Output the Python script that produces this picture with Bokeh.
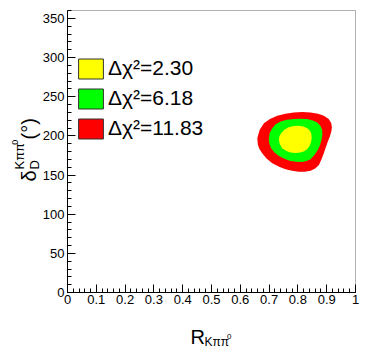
import math
from bokeh.plotting import figure
from bokeh.models import FixedTicker, Label, Legend, LegendItem, Range1d, BoxAnnotation
from bokeh.embed import file_html
from bokeh.resources import INLINE

# ---- data ----
levels = ["Δχ²=2.30", "Δχ²=6.18", "Δχ²=11.83"]
colors = ["#ffff00", "#00ff00", "#ff0000"]

# contour outlines (R, delta in degrees)
red_x = [0.659, 0.667, 0.682, 0.703, 0.728, 0.757, 0.786, 0.815, 0.844, 0.870, 0.890, 0.907, 0.916, 0.918, 0.916, 0.911, 0.904, 0.897, 0.890, 0.882, 0.873, 0.860, 0.844, 0.824, 0.803, 0.780, 0.757, 0.733, 0.711, 0.691, 0.676, 0.666, 0.661]
red_y = [197.0, 207.5, 216.0, 221.5, 225.6, 228.3, 229.9, 230.4, 229.9, 228.3, 225.6, 221.5, 216.0, 210.7, 205.5, 199.2, 192.7, 185.5, 177.8, 170.0, 162.8, 158.3, 155.5, 154.3, 154.2, 155.3, 157.3, 160.8, 165.0, 171.0, 177.8, 183.5, 188.5]

green_x = [0.699, 0.702, 0.711, 0.723, 0.740, 0.762, 0.786, 0.810, 0.832, 0.852, 0.867, 0.878, 0.884, 0.885, 0.882, 0.877, 0.869, 0.858, 0.844, 0.830, 0.815, 0.795, 0.774, 0.753, 0.734, 0.718, 0.707, 0.701]
green_y = [195.7, 203.5, 209.8, 214.8, 218.3, 220.5, 221.4, 221.8, 221.4, 219.7, 217.1, 212.8, 207.7, 201.5, 194.9, 188.4, 182.0, 175.7, 170.1, 167.8, 166.7, 166.8, 168.0, 170.6, 174.4, 179.0, 184.2, 190.0]

yellow_x = [0.734, 0.736, 0.742, 0.753, 0.768, 0.786, 0.803, 0.819, 0.832, 0.841, 0.846, 0.848, 0.846, 0.841, 0.832, 0.822, 0.809, 0.792, 0.774, 0.758, 0.745, 0.737]
yellow_y = [194.9, 199.5, 203.4, 207.8, 211.1, 212.7, 212.8, 211.8, 209.8, 206.8, 203.4, 198.0, 192.7, 187.5, 182.9, 180.2, 178.6, 178.0, 178.6, 181.0, 184.2, 189.5]

x_ticks = [0, 0.1, 0.2, 0.3, 0.4, 0.5, 0.6, 0.7, 0.8, 0.9, 1]
x_tick_labels = ["0", "0.1", "0.2", "0.3", "0.4", "0.5", "0.6", "0.7", "0.8", "0.9", "1"]
y_ticks = [0, 50, 100, 150, 200, 250, 300, 350]
y_tick_labels = ["0", "50", "100", "150", "200", "250", "300", "350"]
x_minor = [i / 50 for i in range(51)]
y_minor = [i * 10 for i in range(37)]
X_MIN, X_MAX = 0, 1
Y_MIN, Y_MAX = 0, 360

FONT = "Liberation Sans"

# whole canvas is the frame; the axes are pinned at x=0 / y=0 so that the
# axis titles (drawn as labels) stay inside the drawable area
W, H = 374, 357
FL, FR, FT, FB = 67, 355, 10, 292          # frame box in pixels
sx = (FR - FL) / (X_MAX - X_MIN)
sy = (FB - FT) / (Y_MAX - Y_MIN)
x_range = Range1d(X_MIN - FL / sx, X_MIN + (W - FL) / sx)
y_range = Range1d(Y_MIN - (H - FB) / sy, Y_MIN + FB / sy)

p = figure(width=W, height=H, x_range=x_range, y_range=y_range,
           output_backend="svg", toolbar_location=None,
           min_border=0, min_border_left=0, min_border_right=0,
           min_border_top=0, min_border_bottom=0)
p.grid.visible = False
p.outline_line_color = None
p.background_fill_color = "white"
p.border_fill_color = "white"

for ax in (p.xaxis[0], p.yaxis[0]):
    ax.fixed_location = 0
    ax.axis_line_color = "black"
    ax.major_tick_in = 8
    ax.major_tick_out = 0
    ax.minor_tick_in = 4
    ax.minor_tick_out = 0
    ax.major_tick_line_color = "black"
    ax.minor_tick_line_color = "black"
    ax.major_label_text_font = FONT
    ax.major_label_text_font_size = "13px"
    ax.major_label_text_color = "black"

p.xaxis.bounds = (X_MIN, X_MAX)
p.yaxis.bounds = (Y_MIN, Y_MAX)
p.xaxis.ticker = FixedTicker(ticks=x_ticks, minor_ticks=x_minor)
p.xaxis.major_label_overrides = dict(zip(x_ticks, x_tick_labels))
p.xaxis.major_label_standoff = 2
p.yaxis.ticker = FixedTicker(ticks=y_ticks, minor_ticks=y_minor)
p.yaxis.major_label_overrides = dict(zip(y_ticks, y_tick_labels))
p.yaxis.major_label_standoff = 3

# frame box
p.add_layout(BoxAnnotation(left=X_MIN, right=X_MAX, bottom=Y_MIN, top=Y_MAX,
                           fill_alpha=0, line_color="black", line_width=1, level="overlay"))

# contours
p.patch(red_x, red_y, fill_color=colors[2], line_color=None)
p.patch(green_x, green_y, fill_color=colors[1], line_color=None)
p.patch(yellow_x, yellow_y, fill_color=colors[0], line_color=None)

# legend proxies (hidden renderers, only used for the legend boxes)
items = []
for lab_text, col, xs, ys in zip(levels, colors, [yellow_x, green_x, red_x], [yellow_y, green_y, red_y]):
    r = p.patch(xs, ys, fill_color=col, line_color="#333333", line_width=1, visible=False)
    items.append(LegendItem(label=lab_text, renderers=[r]))

legend = Legend(items=items, location=(75, 216.5), orientation="vertical",
                glyph_width=31, glyph_height=25, label_height=25, spacing=5,
                padding=0, margin=0, label_standoff=2,
                label_text_font=FONT, label_text_font_size="21px", label_text_color="black",
                border_line_color=None, background_fill_alpha=0, inactive_fill_alpha=0)
p.add_layout(legend)

def lab(x, y, text, size, angle=0.0):
    p.add_layout(Label(x=x, y=y, text=text,
                       angle=angle, text_font=FONT, text_font_size=size,
                       text_baseline="alphabetic", text_align="left", text_color="black"))

# x title: R_{K pi pi^0}
lab(0.427, -57.4, "R", "20px")
lab(0.476, -63.8, "Kππ", "12px")
lab(0.554, -56.2, "0", "8px")

# y title: delta_D^{K pi pi^0} (deg)
A = math.pi / 2
lab(-0.132, 141.7, "δ", "20px", A)
lab(-0.1146, 157.0, "D", "13px", A)
lab(-0.1667, 157.0, "Kππ", "13px", A)
lab(-0.184, 188.5, "0", "9px", A)
lab(-0.132, 195.3, "(°)", "20px", A)

open("out.html", "w").write(file_html(p, INLINE))
